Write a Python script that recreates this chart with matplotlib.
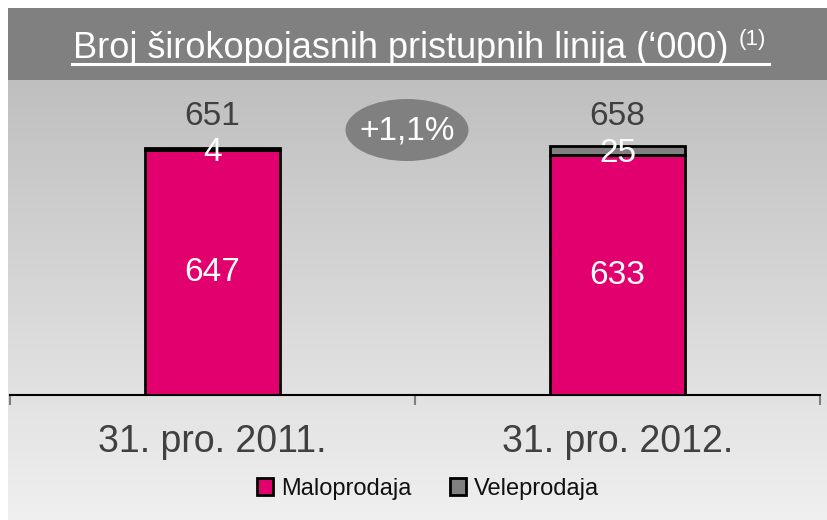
import matplotlib
matplotlib.use("Agg")
import matplotlib.pyplot as plt
from matplotlib.patches import Ellipse, Rectangle
from matplotlib.lines import Line2D
import numpy as np

plt.rcParams['font.family'] = ['Liberation Sans', 'DejaVu Sans']

# data
categories = ["31. pro. 2011.", "31. pro. 2012."]
retail = [647, 633]
wholesale = [4, 25]
totals = [651, 658]
series_names = ["Maloprodaja", "Veleprodaja"]
title = "Broj širokopojasnih pristupnih linija (\u2018000)"
change = "+1,1%"

W, H = 828, 520
fig = plt.figure(figsize=(W / 100, H / 100), dpi=100)
fig.patch.set_facecolor("white")

# light gradient background below the title band
bg = fig.add_axes([8 / W, 0, 1 - 8 / W, (H - 80) / H])
grad = np.linspace(0, 1, 256).reshape(-1, 1)
c_top, c_bot = np.array([0.75, 0.75, 0.75]), np.array([0.94, 0.94, 0.94])
img = c_bot + (c_top - c_bot) * grad
bg.imshow(img[:, None, :].repeat(2, axis=1), aspect="auto", extent=[0, 1, 0, 1], origin="lower")
bg.axis("off")

# dark title band
fig.add_artist(Rectangle((8 / W, 1 - 80 / H), 1, 72 / H, transform=fig.transFigure,
                         facecolor="#808080", edgecolor="none"))

ax = fig.add_axes([10 / W, 1 - 395 / H, 810 / W, 315 / H])
ax.patch.set_visible(False)
x = np.arange(len(categories))
bw = 0.333
b1 = ax.bar(x, retail, bw, color="#e2006f", edgecolor="black", linewidth=2, label=series_names[0])
b2 = ax.bar(x, wholesale, bw, bottom=retail, color="#808080", edgecolor="black", linewidth=2,
            label=series_names[1])
ax.set_xlim(-0.5, 1.5)
ax.set_ylim(0, 831)
for s in ["top", "left", "right"]:
    ax.spines[s].set_visible(False)
ax.spines["bottom"].set_linewidth(1.5)
ax.set_yticks([])
ax.set_xticks([-0.5, 0.5, 1.5])
ax.set_xticklabels([])
ax.tick_params(axis="x", length=7.5, width=1.5, color="#808080", direction="out")

for i in range(len(categories)):
    ax.text(x[i], retail[i] / 2, str(retail[i]), ha="center", va="center", color="white", fontsize=24)
    ax.text(x[i], retail[i] + wholesale[i] / 2 - 8, str(wholesale[i]), ha="center", va="center",
            color="white", fontsize=24)
    ax.text(x[i], 735, str(totals[i]), ha="center", va="center", color="#404040", fontsize=24)
    ax.text(x[i], -0.15, categories[i], ha="center", va="center", color="#404040", fontsize=27,
            transform=ax.get_xaxis_transform())

# change bubble
fig.add_artist(Ellipse((407 / W, 1 - 130 / H), 123 / W, 62 / H, transform=fig.transFigure,
                       facecolor="#808080", edgecolor="none"))
fig.text(407 / W, 1 - 131 / H, change, ha="center", va="center", color="white", fontsize=24)

# title with superscript and underline
t = fig.text(73 / W, 1 - 58 / H, title, ha="left", va="baseline", color="white", fontsize=26)
fig.canvas.draw()
r = fig.canvas.get_renderer()
bb = t.get_window_extent(r)
sup = fig.text((bb.x1 + 10) / W, 1 - 45 / H, "(1)", ha="left", va="baseline", color="white", fontsize=16)
bb2 = sup.get_window_extent(r)
fig.add_artist(Line2D([72 / W, (bb2.x1 + 3) / W], [1 - 64 / H, 1 - 64 / H], transform=fig.transFigure,
                      color="white", linewidth=2.2))

leg = fig.legend(handles=[b1, b2], labels=series_names, loc="center", bbox_to_anchor=(0.517, 1 - 489 / H),
                 ncol=2, frameon=False, fontsize=17, handlelength=0.7, handleheight=0.7,
                 handletextpad=0.35, columnspacing=1.6)
for txt in leg.get_texts():
    txt.set_color("#111111")

fig.savefig("out.png", dpi=100, facecolor=fig.get_facecolor())
